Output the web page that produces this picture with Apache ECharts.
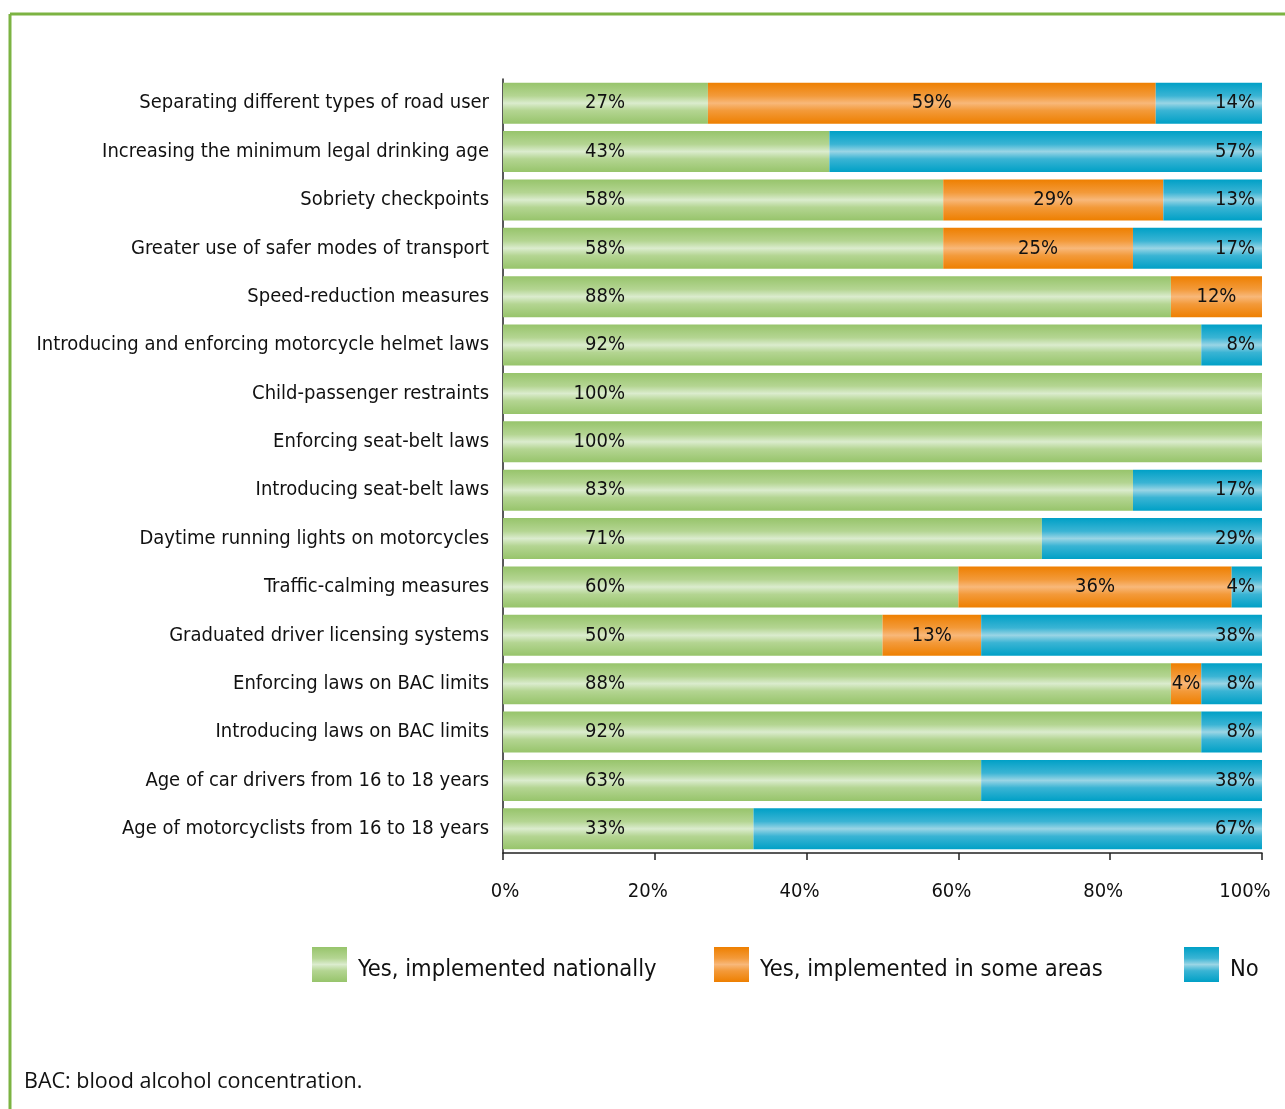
<!DOCTYPE html>
<html>
<head>
<meta charset="utf-8">
<script src="https://cdn.jsdelivr.net/npm/echarts@6/dist/echarts.min.js"></script>
<style>
  html, body { margin: 0; padding: 0; background: #fff; }
  #chart { width: 1285px; height: 1109px; }
</style>
</head>
<body>
<div id="chart"></div>
<script>
// Road-safety measures and how widely they are implemented (share of countries)
const categories = [
  'Separating different types of road user',
  'Increasing the minimum legal drinking age',
  'Sobriety checkpoints',
  'Greater use of safer modes of transport',
  'Speed-reduction measures',
  'Introducing and enforcing motorcycle helmet laws',
  'Child-passenger restraints',
  'Enforcing seat-belt laws',
  'Introducing seat-belt laws',
  'Daytime running lights on motorcycles',
  'Traffic-calming measures',
  'Graduated driver licensing systems',
  'Enforcing laws on BAC limits',
  'Introducing laws on BAC limits',
  'Age of car drivers from 16 to 18 years',
  'Age of motorcyclists from 16 to 18 years'
];
const nationally = [27, 43, 58, 58, 88, 92, 100, 100, 83, 71, 60, 50, 88, 92, 63, 33];
const someAreas  = [59, null, 29, 25, 12, null, null, null, null, null, 36, 13, 4, null, null, null];
const notImpl    = [14, 57, 13, 17, null, 8, null, null, 17, 29, 4, 38, 8, 8, 38, 67];
const xTicks = ['0%', '20%', '40%', '60%', '80%', '100%'];

const FONT = '"DejaVu Sans Condensed", "Liberation Sans Narrow", sans-serif';

function band(edge, mid, center) {
  return new echarts.graphic.LinearGradient(0, 0, 0, 1, [
    { offset: 0, color: edge },
    { offset: 0.32, color: mid },
    { offset: 0.5, color: center },
    { offset: 0.68, color: mid },
    { offset: 1, color: edge }
  ]);
}
const greenFill  = band('#97c46b', '#b4d592', '#dbecce');
const orangeFill = band('#ee7f00', '#f39a3a', '#f8b87a');
const blueFill   = band('#00a0c6', '#3ab4d4', '#9ad5e5');

const labelBase = { fontFamily: FONT, fontSize: 20, color: '#111' };

// tick labels sit slightly left of their ticks; the first nudged right, the last further left
const tickRich = {
  first: { fontFamily: FONT, fontSize: 20, color: '#111', padding: [0, 0, 0, 4] },
  mid:   { fontFamily: FONT, fontSize: 20, color: '#111', padding: [0, 14, 0, 0] },
  last:  { fontFamily: FONT, fontSize: 20, color: '#111', padding: [0, 34, 0, 0] }
};

const chart = echarts.init(document.getElementById('chart'), null, { renderer: 'canvas' });
chart.setOption({
  animation: false,
  backgroundColor: '#fff',
  grid: { left: 503, top: 79, width: 759, height: 774, containLabel: false, outerBoundsMode: 'none' },
  xAxis: {
    type: 'value', min: 0, max: 100, interval: 20,
    axisLine: { show: true, lineStyle: { color: '#222', width: 1.5 } },
    axisTick: { show: true, length: 7, lineStyle: { color: '#222', width: 1.5 } },
    splitLine: { show: false },
    axisLabel: {
      margin: 29, fontFamily: FONT, fontSize: 20, color: '#111', rich: tickRich,
      formatter: (v) => {
        const i = Math.round(v / 20);
        const key = i === 0 ? 'first' : (i === xTicks.length - 1 ? 'last' : 'mid');
        return '{' + key + '|' + xTicks[i] + '}';
      }
    }
  },
  yAxis: {
    type: 'category', data: categories, inverse: true,
    axisLine: { show: true, lineStyle: { color: '#222', width: 1.5 } },
    axisTick: { show: false },
    axisLabel: { margin: 14, fontFamily: FONT, fontSize: 20, color: '#111' }
  },
  legend: [
    { data: ['Yes, implemented nationally'], left: 307, top: 942 },
    { data: ['Yes, implemented in some areas'], left: 709, top: 942 },
    { data: ['No'], left: 1179, top: 942 }
  ].map(l => Object.assign(l, {
    itemWidth: 35, itemHeight: 35, itemGap: 10, icon: 'rect',
    formatter: '{t|{name}}',
    textStyle: {
      fontFamily: FONT, fontSize: 23.5, color: '#111',
      rich: { t: { fontFamily: FONT, fontSize: 23.5, color: '#111', padding: [11, 0, 0, 6] } }
    }
  })),
  graphic: [
    { type: 'line', shape: { x1: 10, y1: 14, x2: 1285, y2: 14 }, style: { stroke: '#7cb342', lineWidth: 3 } },
    { type: 'line', shape: { x1: 10, y1: 14, x2: 10, y2: 1109 }, style: { stroke: '#7cb342', lineWidth: 3 } },
    {
      type: 'text', left: 24, top: 1071,
      style: { text: 'BAC: blood alcohol concentration.', font: '21.5px "Open Sans", "Noto Sans", sans-serif', fill: '#111' }
    }
  ],
  series: [
    {
      name: 'Yes, implemented nationally', type: 'bar', stack: 'all', data: nationally,
      barCategoryGap: '15%', itemStyle: { color: greenFill },
      label: Object.assign({ show: true, position: [122, '50%'], align: 'right', verticalAlign: 'middle',
        formatter: '{c}%' }, labelBase)
    },
    {
      name: 'Yes, implemented in some areas', type: 'bar', stack: 'all', data: someAreas,
      itemStyle: { color: orangeFill },
      label: Object.assign({ show: true, position: 'inside', formatter: '{c}%' }, labelBase)
    },
    {
      name: 'No', type: 'bar', stack: 'all', data: notImpl,
      itemStyle: { color: blueFill },
      label: Object.assign({ show: true, position: 'insideRight', distance: 7, formatter: '{c}%' }, labelBase)
    }
  ]
});
</script>
</body>
</html>
